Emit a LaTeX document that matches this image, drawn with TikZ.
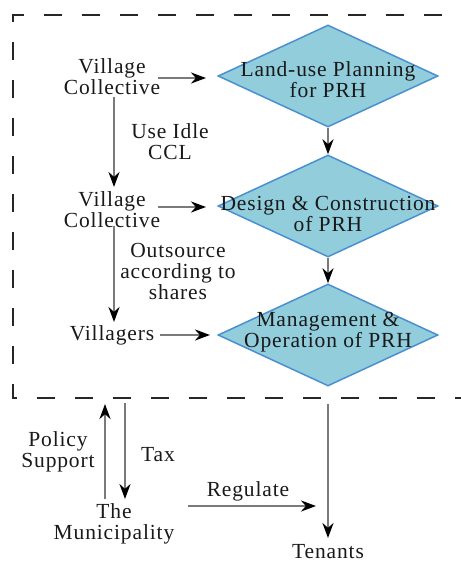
\documentclass[tikz,border=0pt]{standalone}
\usepackage{fontspec}
\setmainfont[LetterSpace=4]{Liberation Serif}
\usetikzlibrary{shapes.geometric,arrows.meta}
\definecolor{dfill}{HTML}{92CDDC}
\definecolor{dline}{HTML}{4A90D0}
\definecolor{cline}{HTML}{7A7A7A}
\tikzset{
  txt/.style={align=center,font=\fontsize{21.5}{21}\selectfont,inner sep=1pt,text=black!90},
  dia/.style={diamond,draw=dline,fill=dfill,line width=1.5pt,minimum width=220pt,minimum height=102pt,inner sep=0pt},
  conn/.style={draw=cline,line width=2.4pt,-{Stealth[length=15pt,width=11pt,black]}},
  frame/.style={draw=black!85,line width=2.6pt,dash pattern=on 18pt off 20pt}
}
\begin{document}
\begin{tikzpicture}[x=1pt,y=-1pt]
\useasboundingbox (0,0) rectangle (461,563);
\clip (0,0) rectangle (461,563);
% frame
\draw[frame] (480,15) -- (13,15) -- (13,398) -- (480,398);
% diamonds
\node[dia] (d1) at (328,76) {};
\node[dia] (d2) at (328,206) {};
\node[dia] (d3) at (328,335) {};
\node[txt] (t1) at (328,80) {Land-use Planning\\for PRH};
\node[txt] (t2) at (328,214) {Design \& Construction\\of PRH};
\node[txt] (t3) at (328,332) {Management \&\\Operation of PRH};
% left nodes
\node[txt] (vc1) at (112,77) {Village\\Collective};
\node[txt] (vc2) at (112,210) {Village\\Collective};
\node[txt] (vil) at (112,335) {Villagers};
\node[txt] (l1) at (170,142) {Use Idle\\CCL};
\node[txt] (l2) at (178,271) {Outsource\\according to\\shares};
% bottom nodes
\node[txt] (mun) at (114,524) {The\\Municipality};
\node[txt] (ten) at (328,552) {Tenants};
\node[txt] (ps) at (58,452) {Policy\\Support};
\node[txt] (tax) at (158,455) {Tax};
\node[txt] (reg) at (248,491) {Regulate};
% coordinates
\coordinate (a1s) at (158,78); \coordinate (a1e) at (206,78);
\coordinate (a2s) at (158,207); \coordinate (a2e) at (206,207);
\coordinate (a3s) at (160,335); \coordinate (a3e) at (210,335);
\coordinate (v1s) at (114,97); \coordinate (v1e) at (114,187);
\coordinate (v2s) at (114,226); \coordinate (v2e) at (114,322);
\coordinate (pu1) at (105,499); \coordinate (pu2) at (105,404);
\coordinate (tx1) at (125,403); \coordinate (tx2) at (125,499);
\coordinate (rg1) at (188,506); \coordinate (rg2) at (316,506);
\coordinate (tn1) at (328,404); \coordinate (tn2) at (328,538);
% connectors
\draw[conn] (a1s) -- (a1e);
\draw[conn] (a2s) -- (a2e);
\draw[conn] (a3s) -- (a3e);
\draw[conn] (v1s) -- (v1e);
\draw[conn] (v2s) -- (v2e);
\draw[conn] (d1.south) -- (d2.north);
\draw[conn] (d2.south) -- (d3.north);
\draw[conn] (pu1) -- (pu2);
\draw[conn] (tx1) -- (tx2);
\draw[conn] (rg1) -- (rg2);
\draw[conn] (tn1) -- (tn2);
\end{tikzpicture}
\end{document}
